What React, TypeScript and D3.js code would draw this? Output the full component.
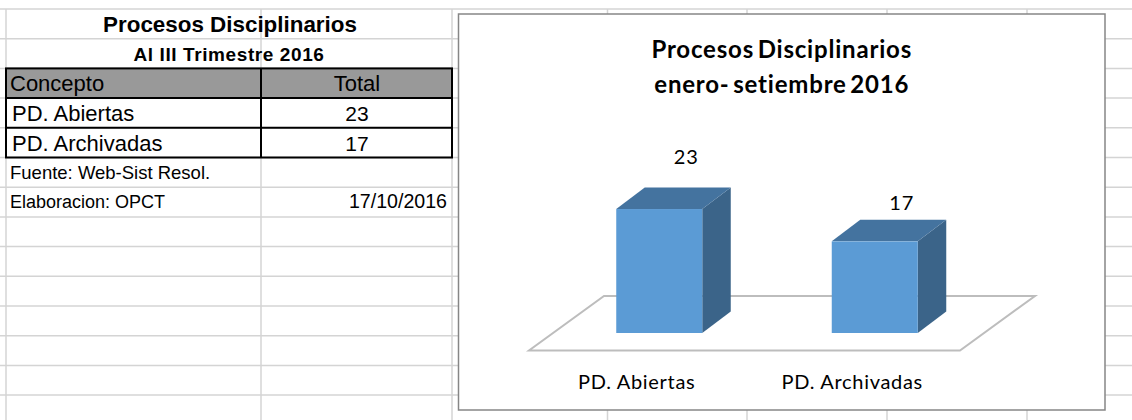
import React from 'react';
import * as d3 from 'd3';

// table + chart content
const categories = ['PD. Abiertas', 'PD. Archivadas'];
const totals = [23, 17];
const tableHeader = ['Concepto', 'Total'];
const tableTitle = 'Procesos Disciplinarios';
const tableSubtitle = 'Al III Trimestre 2016';
const sourceNote = 'Fuente: Web-Sist Resol.';
const authorNote = 'Elaboracion: OPCT';
const dateNote = '17/10/2016';
const chartTitle = ['Procesos Disciplinarios', 'enero- setiembre 2016'];

const W = 1132;
const H = 420;

// spreadsheet grid
const rowTop = 9;
const rowH = 29.7;
const colX = [6, 261, 452, 607.5, 747, 887, 1027];
const gridColor = '#d4d4d4';

const arial = '"Liberation Sans", Arial, sans-serif';
const calibri = 'Lato, "Open Sans", sans-serif';

// chart box
const box = { x: 458.5, y: 14, w: 646.5, h: 396 };
const floor = { left: 529, right: 960, front: 350.5, back: 296, dx: 75 };
const depth = { dx: 28.5, dy: -21.5 };
const barW = 86;
const barBase = 333;

const App = () => {
  const rows = d3.range(0, 14).map(i => rowTop + i * rowH);
  const rowY = (i: number) => rowTop + i * rowH;

  const x = d3.scaleBand<string>().domain(categories).range([floor.left, floor.right]).padding(0);
  const y = d3.scaleLinear().domain([0, 25]).range([barBase, barBase - 25 * 5.39]);

  const shift = 22.5; // bars sit mid-depth on the floor

  const poly = (pts: [number, number][]) => pts.map(p => p.join(',')).join(' ');

  return (
    <svg width={W} height={H} style={{ position: 'absolute', left: 0, top: 0, background: '#fff' }}>
      {/* grid rows */}
      {rows.map((ry, i) => (
        <line key={'r' + i} x1={0} x2={W} y1={ry} y2={ry} stroke={gridColor} strokeWidth={1.5} />
      ))}
      {colX.map((cx, i) => (
        <line key={'c' + i} x1={cx} x2={cx} y1={rowTop} y2={H} stroke={gridColor} strokeWidth={1.5} />
      ))}

      {/* table */}
      <text x={230} y={rowY(0) + 23} textAnchor="middle" fontFamily={arial} fontWeight="bold" fontSize={22.4}>
        {tableTitle}
      </text>
      <text x={229} y={rowY(1) + 22} textAnchor="middle" fontFamily={arial} fontWeight="bold" fontSize={19} letterSpacing={0.6}>
        {tableSubtitle}
      </text>
      <rect x={colX[0]} y={rowY(2)} width={colX[2] - colX[0]} height={rowH} fill="#999999" />
      <text x={10} y={rowY(2) + 23} fontFamily={arial} fontSize={22}>{tableHeader[0]}</text>
      <text x={357} y={rowY(2) + 23} textAnchor="middle" fontFamily={arial} fontSize={22}>{tableHeader[1]}</text>
      {categories.map((c, i) => (
        <g key={c}>
          <text x={12} y={rowY(3 + i) + 23} fontFamily={arial} fontSize={22}>{c}</text>
          <text x={357} y={rowY(3 + i) + 23} textAnchor="middle" fontFamily={arial} fontSize={21}>{totals[i]}</text>
        </g>
      ))}
      <g stroke="#000" strokeWidth={2} fill="none">
        <rect x={colX[0]} y={rowY(2)} width={colX[2] - colX[0]} height={rowH * 3} />
        <line x1={colX[1]} x2={colX[1]} y1={rowY(2)} y2={rowY(5)} />
        <line x1={colX[0]} x2={colX[2]} y1={rowY(3)} y2={rowY(3)} />
        <line x1={colX[0]} x2={colX[2]} y1={rowY(4)} y2={rowY(4)} />
      </g>
      <text x={10} y={rowY(5) + 21} fontFamily={arial} fontSize={18.5}>{sourceNote}</text>
      <text x={10} y={rowY(6) + 21} fontFamily={arial} fontSize={18}>{authorNote}</text>
      <text x={447} y={rowY(6) + 21} textAnchor="end" fontFamily={arial} fontSize={19.6}>{dateNote}</text>

      {/* chart */}
      <rect x={box.x} y={box.y} width={box.w} height={box.h} fill="#fff" stroke="#868686" strokeWidth={1.5} />
      <text x={box.x + box.w / 2} y={58} textAnchor="middle" fontFamily={calibri} fontWeight="bold" fontSize={24} letterSpacing={0.8} wordSpacing={-3}>
        {chartTitle[0]}
      </text>
      <text x={box.x + box.w / 2} y={93} textAnchor="middle" fontFamily={calibri} fontWeight="bold" fontSize={24} letterSpacing={0.8} wordSpacing={-3}>
        {chartTitle[1]}
      </text>

      {/* floor */}
      <polygon
        points={poly([
          [floor.left, floor.front],
          [floor.right, floor.front],
          [floor.right + floor.dx, floor.back],
          [floor.left + floor.dx, floor.back],
        ])}
        fill="#fff"
        stroke="#bdbdbd"
        strokeWidth={2}
      />

      {/* bars */}
      {categories.map((c, i) => {
        const cx = (x(c) ?? 0) + x.bandwidth() / 2 + shift;
        const x0 = cx - barW / 2;
        const x1 = cx + barW / 2;
        const yt = y(totals[i]);
        const yb = y(0);
        return (
          <g key={c}>
            <polygon
              points={poly([
                [x1, yt],
                [x1 + depth.dx, yt + depth.dy],
                [x1 + depth.dx, yb + depth.dy],
                [x1, yb],
              ])}
              fill="#3b6489"
            />
            <polygon
              points={poly([
                [x0, yt],
                [x1, yt],
                [x1 + depth.dx, yt + depth.dy],
                [x0 + depth.dx, yt + depth.dy],
              ])}
              fill="#44739f"
            />
            <rect x={x0} y={yt} width={barW} height={yb - yt} fill="#5b9bd5" />
            <text
              x={cx + 27}
              y={y(totals[i] * 1.42) + 7}
              textAnchor="middle"
              fontFamily={calibri}
              fontSize={20}
              letterSpacing={1}
              fill="#000"
            >
              {totals[i]}
            </text>
          </g>
        );
      })}

      {/* category labels */}
      {categories.map(c => (
        <text
          key={'l' + c}
          x={(x(c) ?? 0) + x.bandwidth() / 2}
          y={389}
          textAnchor="middle"
          fontFamily={calibri}
          fontSize={20}
          letterSpacing={0.7}
        >
          {c}
        </text>
      ))}
    </svg>
  );
};

export default App;
